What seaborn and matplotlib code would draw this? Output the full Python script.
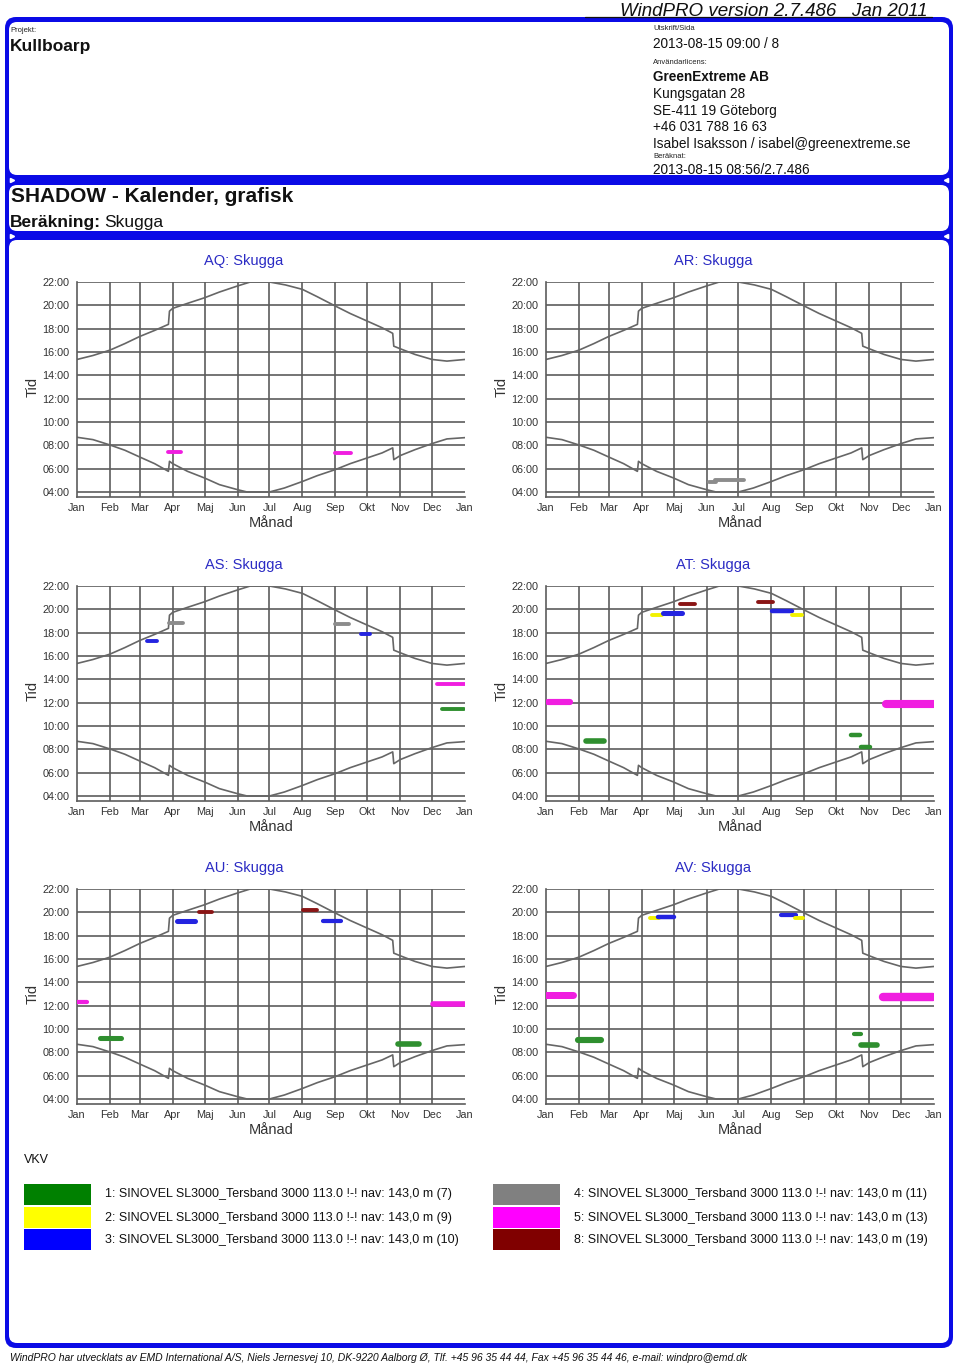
import numpy as np
import pandas as pd
import matplotlib
matplotlib.use("Agg")
import matplotlib.pyplot as plt
import seaborn as sns
from matplotlib.patches import FancyBboxPatch, Rectangle
from matplotlib import font_manager

# ---------------- data ----------------
month_labels = ["Jan", "Feb", "Mar", "Apr", "Maj", "Jun", "Jul", "Aug", "Sep", "Okt", "Nov", "Dec", "Jan"]
month_days = [0, 31, 59, 90, 120, 151, 181, 212, 243, 273, 304, 334, 365]
hour_ticks = [4, 6, 8, 10, 12, 14, 16, 18, 20, 22]

sunset_day = [0, 15, 31, 45, 59, 73, 86, 87, 90, 104, 120, 134, 151, 163, 181, 196, 212, 226, 243, 257, 273, 287, 297, 298, 304, 318, 334, 348, 365]
sunset_hour = [15.36, 15.7, 16.16, 16.72, 17.33, 17.85, 18.37, 19.5, 19.74, 20.17, 20.65, 21.14, 21.66, 22.0, 22.0, 21.75, 21.37, 20.74, 19.94, 19.3, 18.65, 18.08, 17.6, 16.5, 16.28, 15.79, 15.36, 15.22, 15.36]

sunrise_day = [0, 15, 31, 45, 59, 73, 86, 87, 90, 104, 120, 134, 151, 160, 181, 195, 212, 226, 243, 257, 273, 287, 297, 298, 304, 318, 334, 348, 365]
sunrise_hour = [8.69, 8.49, 8.03, 7.58, 7.0, 6.43, 5.77, 6.63, 6.43, 5.77, 5.2, 4.63, 4.2, 4.0, 4.0, 4.34, 4.9, 5.4, 5.92, 6.43, 6.92, 7.35, 7.78, 6.77, 7.12, 7.63, 8.15, 8.55, 8.66]

# shadow periods: (start day, end day, hour, half-extent in hours, turbine no.)
AQ_blobs = [(86, 98, 7.46, 0.12, 5), (243, 258, 7.35, 0.12, 5)]
AR_blobs = [(153, 160, 4.85, 0.07, 4), (159, 186, 5.0, 0.10, 4)]
AS_blobs = [(65.5, 75, 17.25, 0.12, 3), (87, 100, 18.83, 0.12, 4), (243, 256, 18.72, 0.12, 4),
            (267, 276, 17.88, 0.10, 3), (338.5, 365, 13.6, 0.12, 5), (343, 364, 11.5, 0.10, 1)]
AT_blobs = [(2, 22.5, 12.09, 0.22, 5), (38, 55, 8.72, 0.20, 1), (100, 109, 19.55, 0.13, 2),
            (109.6, 128, 19.72, 0.18, 3), (126, 140, 20.42, 0.11, 8), (199, 213.6, 20.59, 0.11, 8),
            (212.4, 231, 19.9, 0.16, 3), (231, 240.6, 19.55, 0.13, 2), (287, 295, 9.21, 0.16, 1),
            (296, 304.5, 8.2, 0.16, 1), (320, 365, 11.9, 0.29, 5)]
AU_blobs = [(0, 9.5, 12.28, 0.15, 5), (21.4, 41.8, 9.19, 0.18, 1), (93.8, 111, 19.22, 0.18, 3),
            (115, 127, 20.05, 0.11, 8), (213, 226, 20.17, 0.11, 8), (231.6, 248, 19.25, 0.15, 3),
            (302, 322, 8.73, 0.20, 1), (334.5, 365, 12.15, 0.20, 5)]
AV_blobs = [(0, 25, 12.94, 0.25, 5), (29.8, 51.7, 9.07, 0.22, 1), (97.8, 106.5, 19.48, 0.10, 2),
            (105, 120.6, 19.62, 0.16, 3), (220.9, 235, 19.74, 0.15, 3), (234, 242, 19.48, 0.10, 2),
            (290, 296, 9.59, 0.15, 1), (296, 311.7, 8.59, 0.20, 1), (317, 364, 12.72, 0.30, 5)]

panel_titles = ["AQ: Skugga", "AR: Skugga", "AS: Skugga", "AT: Skugga", "AU: Skugga", "AV: Skugga"]
panel_blobs = [AQ_blobs, AR_blobs, AS_blobs, AT_blobs, AU_blobs, AV_blobs]

turbine_ids = [1, 2, 3, 4, 5, 8]
turbine_colors = ["#008000", "#ffff00", "#0000ff", "#808080", "#ff00ff", "#800000"]
legend_labels = [
    "1: SINOVEL SL3000_Tersband 3000 113.0 !-! nav: 143,0 m (7)",
    "2: SINOVEL SL3000_Tersband 3000 113.0 !-! nav: 143,0 m (9)",
    "3: SINOVEL SL3000_Tersband 3000 113.0 !-! nav: 143,0 m (10)",
    "4: SINOVEL SL3000_Tersband 3000 113.0 !-! nav: 143,0 m (11)",
    "5: SINOVEL SL3000_Tersband 3000 113.0 !-! nav: 143,0 m (13)",
    "8: SINOVEL SL3000_Tersband 3000 113.0 !-! nav: 143,0 m (19)",
]
blob_colors = {1: "#2f8f2f", 2: "#f2f200", 3: "#2424e0", 4: "#8c8c8c", 5: "#f01ee0", 8: "#8a1515"}

# ---------------- figure ----------------
sns.set_theme(style="white")
plt.rcParams["font.family"] = ["Liberation Sans", "DejaVu Sans"]

installed = {f.name for f in font_manager.fontManager.ttflist}
if "Liberation Sans Narrow" in installed:
    head_family, head_size = ["Liberation Sans Narrow", "DejaVu Sans"], 15.5
else:
    head_family, head_size = ["Liberation Sans", "DejaVu Sans"], 13.5

W, H = 960, 1366
fig = plt.figure(figsize=(W / 100, H / 100), dpi=100)
bg = fig.add_axes([0, 0, 1, 1], zorder=0)
bg.set_xlim(0, W)
bg.set_ylim(H, 0)
bg.axis("off")

BLUE = "#0b0be6"


def rbox(x0, y0, x1, y1, r, color):
    bg.add_patch(FancyBboxPatch((x0 + r, y0 + r), (x1 - x0) - 2 * r, (y1 - y0) - 2 * r,
                                boxstyle=f"round,pad={r}", fc=color, ec="none"))


rbox(5, 17, 953, 1348, 11, BLUE)
rbox(9, 22, 949, 175, 8, "white")
rbox(9, 185, 949, 231, 8, "white")
rbox(9, 240, 949, 1343, 8, "white")
for yy in (180, 236):
    bg.plot([12], [yy], marker=">", color="white", ms=3)
    bg.plot([946], [yy], marker="<", color="white", ms=3)

# header
bg.text(928, 15.5, "WindPRO version 2.7.486   Jan 2011", ha="right", va="baseline",
        fontsize=head_size, style="italic", color="#111", family=head_family)
bg.plot([585, 932], [17, 17], color="#111", lw=0.9)

bg.text(10, 30, "Projekt:", fontsize=5.5, va="center", color="#222")
bg.text(10, 47, "Kullboarp", fontsize=12.5, weight="bold", va="center", color="#111")
rx = 653
bg.text(rx, 29, "Utskrift/Sida", fontsize=5.5, va="center", color="#222")
bg.text(rx, 44, "2013-08-15 09:00 / 8", fontsize=9.8, va="center", color="#111")
bg.text(rx, 62, "Användarlicens:", fontsize=5.5, va="center", color="#222")
bg.text(rx, 77, "GreenExtreme AB", fontsize=9.8, weight="bold", va="center", color="#111")
bg.text(rx, 94, "Kungsgatan 28", fontsize=9.8, va="center", color="#111")
bg.text(rx, 111, "SE-411 19 Göteborg", fontsize=9.8, va="center", color="#111")
bg.text(rx, 127, "+46 031 788 16 63", fontsize=9.8, va="center", color="#111")
bg.text(rx, 144, "Isabel Isaksson / isabel@greenextreme.se", fontsize=9.8, va="center", color="#111")
bg.text(rx, 156, "Beräknat:", fontsize=5.5, va="center", color="#222")
bg.text(rx, 170, "2013-08-15 08:56/2.7.486", fontsize=9.8, va="center", color="#111")

bg.text(11, 197, "SHADOW - Kalender, grafisk", fontsize=15, weight="bold", va="center", color="#111")
bg.text(10, 223, "Beräkning:", fontsize=12.5, weight="bold", va="center", color="#111")
bg.text(104, 223, "Skugga", fontsize=12.5, va="center", color="#111")

# panels
AX_W = 388
PX_PER_H = 210 / 18.0
Y_BOTTOM = 3.57
AX_H = (22 - Y_BOTTOM) * PX_PER_H
lefts = [77, 546]
tops = [282, 586, 889]

sun_df = pd.concat([
    pd.DataFrame({"day": sunset_day, "hour": sunset_hour, "curve": "sunset"}),
    pd.DataFrame({"day": sunrise_day, "hour": sunrise_hour, "curve": "sunrise"}),
])

minor_x = []
for a, b in zip(month_days[:-1], month_days[1:]):
    minor_x += [a + (b - a) * k / 4 for k in (1, 2, 3)]
minor_y = [4 + k / 3 for k in range(55) if k % 6 != 0]

GRID = "#5c5c5c"
for i, (title, blobs) in enumerate(zip(panel_titles, panel_blobs)):
    row, col = divmod(i, 2)
    x0, y0 = lefts[col], tops[row]
    ax = fig.add_axes([x0 / W, 1 - (y0 + AX_H) / H, AX_W / W, AX_H / H], zorder=1)
    ax.set_facecolor("none")
    ax.set_xlim(0, 365)
    ax.set_ylim(Y_BOTTOM, 22)
    for d in month_days[1:-1]:
        ax.axvline(d, color=GRID, lw=1.2, zorder=1)
    for h in hour_ticks:
        ax.axhline(h, color=GRID, lw=1.2, zorder=1)
    sns.lineplot(data=sun_df, x="day", y="hour", units="curve", estimator=None, sort=False,
                 color="#666666", lw=1.2, ax=ax, zorder=2)
    for (d0, d1, hh, dh, tid) in blobs:
        lw = 2 * dh * PX_PER_H * 0.72 * 1.2
        ax.plot([d0, d1], [hh, hh], color=blob_colors[tid], lw=max(lw, 2.8),
                solid_capstyle="round", zorder=3)
    ax.set_xlabel("")
    ax.set_ylabel("")
    for s in ("top", "right"):
        ax.spines[s].set_visible(False)
    for s in ("left", "bottom"):
        ax.spines[s].set_color(GRID)
        ax.spines[s].set_linewidth(1.2)
    ax.set_xticks(month_days)
    ax.set_xticklabels(month_labels)
    ax.set_yticks(hour_ticks)
    ax.set_yticklabels([f"{h:02d}:00" for h in hour_ticks])
    ax.set_xticks(minor_x, minor=True)
    ax.set_yticks(minor_y, minor=True)
    ax.tick_params(axis="both", which="major", width=1, color=GRID, labelsize=7.8, labelcolor="#333")
    ax.tick_params(axis="x", which="major", direction="inout", length=6, pad=1.5)
    ax.tick_params(axis="y", which="major", direction="out", length=4, pad=1.5)
    ax.tick_params(axis="x", which="minor", direction="in", length=2.5, width=0.8, color=GRID)
    ax.tick_params(axis="y", which="minor", direction="out", length=2.2, width=0.8, color=GRID)
    ax.grid(False)

    bg.text(x0 + 167, y0 - 21, title, ha="center", va="center", fontsize=10.5, color="#2b2bc4")
    bg.text(x0 + AX_W / 2, y0 + 241, "Månad", ha="center", va="center", fontsize=10.5, color="#333")
    bg.text(x0 - 44, y0 + 105, "Tid", ha="center", va="center", rotation=90,
            fontsize=10.5, color="#333")

# legend
bg.text(24, 1160, "VKV", fontsize=9, va="center", color="#111")
box_y = [1184, 1207, 1229]
for j, (tid, colr, lab) in enumerate(zip(turbine_ids, turbine_colors, legend_labels)):
    c, r = divmod(j, 3)
    bx = 24 if c == 0 else 493
    tx = 105 if c == 0 else 574
    bg.add_patch(Rectangle((bx, box_y[r]), 67, 20.5, fc=colr, ec="none"))
    bg.text(tx, box_y[r] + 10.5, lab, fontsize=9, va="center", color="#111")

# footer
bg.text(10, 1358, "WindPRO har utvecklats av EMD International A/S, Niels Jernesvej 10, DK-9220 Aalborg Ø, "
        "Tlf. +45 96 35 44 44, Fax +45 96 35 44 46, e-mail: windpro@emd.dk",
        fontsize=7.5, style="italic", va="center", color="#111")

fig.savefig("out.png", dpi=100, facecolor="white")
